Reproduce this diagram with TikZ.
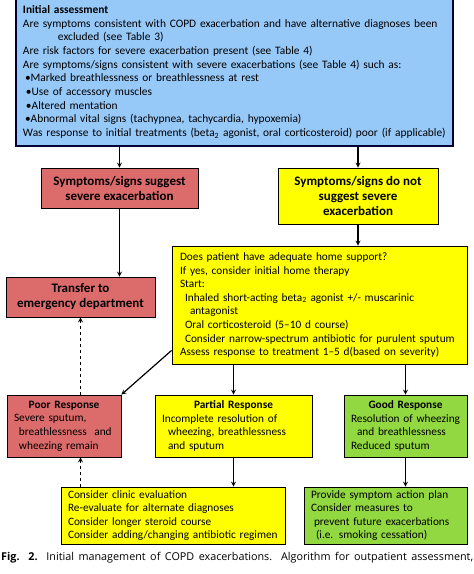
\documentclass[tikz,border=0pt]{standalone}
\usepackage{fontspec}
\setmainfont{Carlito}
\newfontfamily\captionfont{Open Sans}
\definecolor{assessblue}{RGB}{150,200,248}
\definecolor{severered}{RGB}{220,108,108}
\definecolor{mildyellow}{RGB}{255,255,0}
\definecolor{goodgreen}{RGB}{146,216,64}
\newcommand{\boxtitle}[1]{\hfill\textbf{#1}\hfill\null}

\begin{document}
\begin{tikzpicture}[x=1pt, y=-1pt, % 1px = 1pt、y軸は下向き
  box/.style={draw, line width=0.8pt, inner xsep=7pt, inner ysep=0pt, align=left,
    font=\fontsize{11.3}{13.6}\selectfont},
  head/.style={draw, line width=0.8pt, inner sep=0pt, align=center,
    font=\fontsize{13}{15}\selectfont\bfseries},
  arr/.style={line width=1.2pt, -stealth}]
  \useasboundingbox (0,0) rectangle (474,574);
  % 初期評価
  \node[box, fill=assessblue, draw=black!80!blue, line width=1.5pt, text width=423pt, minimum height=148pt,
    font=\fontsize{11.4}{13.7}\selectfont]
    (assess) at (234.5,72) {\textbf{Initial assessment}\\
    Are symptoms consistent with COPD exacerbation and have alternative diagnoses been\\
    \hspace*{35pt}excluded (see Table 3)\\
    Are risk factors for severe exacerbation present (see Table 4)\\
    Are symptoms/signs consistent with severe exacerbations (see Table 4) such as:\\
    \hspace*{2pt}\textbullet Marked breathlessness or breathlessness at rest\\
    \hspace*{3pt}\textbullet Use of accessory muscles\\
    \hspace*{3pt}\textbullet Altered mentation\\
    \hspace*{2pt}\textbullet Abnormal vital signs (tachypnea, tachycardia, hypoxemia)\\
    Was response to initial treatments (beta\textsubscript{2} agonist, oral corticosteroid) poor (if applicable)};
  % 重症か否か
  \node[head, fill=severered, minimum width=157pt, minimum height=40pt] (severe) at (119.5,188)
    {Symptoms/signs suggest\\severe exacerbation};
  \node[head, fill=mildyellow, minimum width=160pt, minimum height=56pt] (nosevere) at (358,196)
    {Symptoms/signs do not\\suggest severe\\exacerbation};
  \node[head, fill=severered, minimum width=149pt, minimum height=40pt] (transfer) at (80.5,297)
    {Transfer to\\emergency department};
  % 在宅治療
  \node[box, fill=mildyellow, inner xsep=8pt, text width=279pt, minimum height=118pt] (home) at (319.5,305)
    {Does patient have adequate home support?\\
    If yes, consider initial home therapy\\
    Start:\\
    \hspace*{5pt}Inhaled short-acting beta\textsubscript{2} agonist +/- muscarinic\\
    \hspace*{10pt}antagonist\\
    \hspace*{5pt}Oral corticosteroid (5--10 d course)\\
    \hspace*{5pt}Consider narrow-spectrum antibiotic for purulent sputum\\
    Assess response to treatment 1--5 d(based on severity)};
  % 治療反応
  \node[box, fill=severered, text width=100pt, minimum height=62pt] (poor) at (64,426)
    {\boxtitle{Poor Response}\\
    Severe sputum,\\
    \hspace*{5pt}breathlessness\ \ and\\
    \hspace*{5pt}wheezing remain};
  \node[box, fill=mildyellow, text width=143pt, minimum height=62pt] (partial) at (233.5,426)
    {\boxtitle{Partial Response}\\
    Incomplete resolution of\\
    \hspace*{6pt}wheezing, breathlessness\\
    \hspace*{6pt}and sputum};
  \node[box, fill=goodgreen, inner xsep=5pt, text width=113pt, minimum height=62pt] (good) at (405.5,426)
    {\boxtitle{Good Response}\\
    \hspace*{2pt}Resolution of wheezing\\
    \hspace*{8pt}and breathlessness\\
    \hspace*{2pt}Reduced sputum};
  % 次の対応
  \node[box, fill=mildyellow, text width=210pt, minimum height=57pt] (consider) at (173,515.5)
    {Consider clinic evaluation\\
    Re-evaluate for alternate diagnoses\\
    Consider longer steroid course\\
    Consider adding/changing antibiotic regimen};
  \node[box, fill=goodgreen, text width=149pt, minimum height=57pt] (plan) at (385.5,515.5)
    {Provide symptom action plan\\
    Consider measures to\\
    \hspace*{3pt}prevent future exacerbations\\
    \hspace*{5pt}(i.e. smoking cessation)};
  % 矢印
  \draw[arr] (assess.south -| severe) -- (severe);
  \draw[arr] (assess.south -| nosevere) -- (nosevere);
  \draw[arr] (severe.south) -- (severe.south |- transfer.north);
  \draw[arr] (nosevere) -- (nosevere.south |- home.north);
  \draw[arr] ([yshift=14pt]home.south west) -- (poor.north east);
  \draw[arr] (home.south -| partial) -- (partial);
  \draw[arr] (home.south -| good) -- (good);
  \draw[arr] (partial) -- (partial.south |- consider.north);
  \draw[arr] (good) -- (good.south |- plan.north);
  \draw[arr, dashed] (poor.north -| transfer) -- (transfer); % 破線
  \draw[arr, dashed] (consider.north -| transfer) -- (poor.south -| transfer);
  % 図の説明
  \node[anchor=west, inner sep=0pt, font=\captionfont\fontsize{10.8}{12}\selectfont] (caption) at (1,558)
    {\makebox[472pt][s]{\textbf{Fig. 2.} Initial management of COPD exacerbations. Algorithm for outpatient assessment,}};
\end{tikzpicture}
\end{document}
